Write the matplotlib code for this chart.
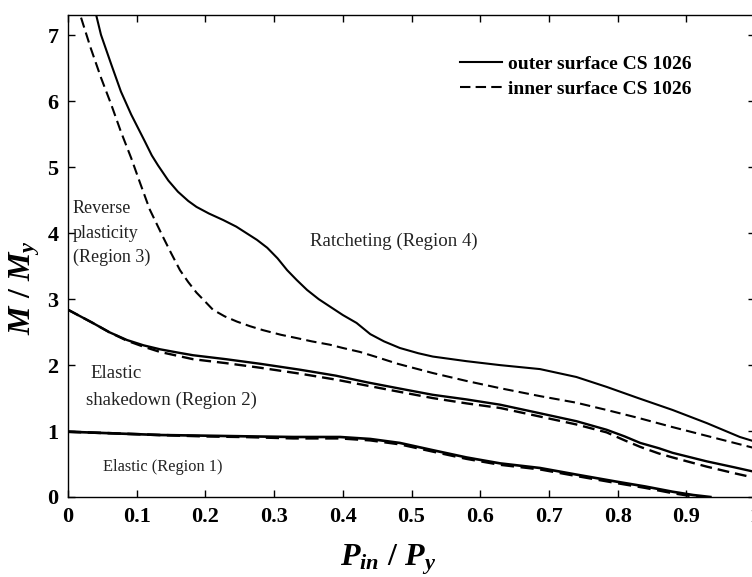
import matplotlib
matplotlib.use('Agg')
import matplotlib.pyplot as plt

# data
outer_top_x = [0.041, 0.048, 0.063, 0.077, 0.092, 0.112, 0.122, 0.131, 0.146, 0.16, 0.175, 0.187,
               0.205, 0.226, 0.245, 0.26, 0.275, 0.29, 0.305, 0.319, 0.333, 0.348, 0.365, 0.381,
               0.40, 0.42, 0.44, 0.46, 0.483, 0.51, 0.531, 0.58, 0.629, 0.687, 0.74, 0.784,
               0.83, 0.88, 0.93, 0.978, 1.0]
outer_top_y = [7.31, 7.01, 6.56, 6.15, 5.80, 5.39, 5.18, 5.03, 4.80, 4.63, 4.49, 4.40,
               4.30, 4.20, 4.10, 4.0, 3.9, 3.78, 3.62, 3.44, 3.29, 3.14, 3.0, 2.89,
               2.76, 2.64, 2.47, 2.36, 2.26, 2.18, 2.13, 2.06, 2.0, 1.94, 1.82, 1.67,
               1.5, 1.32, 1.12, 0.91, 0.84]

inner_top_x = [0.019, 0.033, 0.048, 0.063, 0.077, 0.092, 0.105, 0.119, 0.138, 0.15, 0.163,
               0.175, 0.187, 0.2, 0.211, 0.228, 0.246, 0.265, 0.284, 0.31, 0.333, 0.355,
               0.381, 0.40, 0.425, 0.45, 0.48, 0.531, 0.58, 0.629, 0.687, 0.74, 0.784, 0.83,
               0.88, 0.94, 1.0]
inner_top_y = [7.27, 6.81, 6.36, 5.95, 5.54, 5.14, 4.76, 4.36, 3.95, 3.7, 3.44,
               3.26, 3.10, 2.96, 2.84, 2.74, 2.66, 2.59, 2.53, 2.46, 2.41, 2.36,
               2.31, 2.26, 2.2, 2.12, 2.02, 1.88, 1.76, 1.65, 1.53, 1.43, 1.32, 1.2,
               1.06, 0.9, 0.74]

mid_x = [0, 0.036, 0.06, 0.086, 0.11, 0.134, 0.16, 0.182, 0.23, 0.28, 0.338, 0.39, 0.435,
         0.48, 0.531, 0.58, 0.629, 0.687, 0.74, 0.784, 0.81, 0.833, 0.86, 0.88, 0.93, 0.97, 1.0]
outer_mid_y = [2.84, 2.64, 2.5, 2.38, 2.3, 2.24, 2.19, 2.15, 2.09, 2.02, 1.93, 1.84, 1.74,
               1.65, 1.55, 1.48, 1.40, 1.27, 1.15, 1.02, 0.92, 0.82, 0.74, 0.67, 0.54, 0.45, 0.38]
inner_mid_y = [2.84, 2.64, 2.5, 2.37, 2.28, 2.2, 2.14, 2.09, 2.03, 1.96, 1.87, 1.78, 1.69,
               1.6, 1.5, 1.42, 1.35, 1.22, 1.1, 0.98, 0.86, 0.76, 0.66, 0.6, 0.46, 0.36, 0.29]

low_x = [0, 0.134, 0.2, 0.26, 0.328, 0.396, 0.44, 0.483, 0.531, 0.58, 0.629, 0.687, 0.74,
         0.80, 0.84, 0.88, 0.91, 0.935]
outer_low_y = [0.99, 0.94, 0.93, 0.92, 0.91, 0.91, 0.88, 0.82, 0.71, 0.6, 0.51, 0.44, 0.34,
               0.23, 0.16, 0.08, 0.03, 0.0]
inner_low_y = [0.99, 0.94, 0.92, 0.91, 0.89, 0.89, 0.86, 0.8, 0.69, 0.58, 0.49, 0.42, 0.32,
               0.21, 0.14, 0.06, 0.01, -0.02]

x_ticks = [0, 0.1, 0.2, 0.3, 0.4, 0.5, 0.6, 0.7, 0.8, 0.9, 1]
x_tick_labels = ['0', '0.1', '0.2', '0.3', '0.4', '0.5', '0.6', '0.7', '0.8', '0.9', '1']
y_ticks = [0, 1, 2, 3, 4, 5, 6, 7]

plt.rcParams['font.family'] = 'Liberation Serif'
plt.rcParams['mathtext.fontset'] = 'custom'
plt.rcParams['mathtext.it'] = 'Liberation Serif:italic:bold'
plt.rcParams['mathtext.rm'] = 'Liberation Serif:bold'
plt.rcParams['mathtext.bf'] = 'Liberation Serif:bold'

W, H = 752, 577
fig = plt.figure(figsize=(W / 100, H / 100), dpi=100)
ax = fig.add_axes([68 / W, 1 - 497 / H, 687 / W, 482 / H])

dash = (5, 2.5)
ax.plot(outer_top_x, outer_top_y, color='black', lw=1.5, label='outer surface CS 1026')
ax.plot(inner_top_x, inner_top_y, color='black', lw=1.5, dashes=dash, label='inner surface CS 1026')
ax.plot(mid_x, outer_mid_y, color='black', lw=1.7)
ax.plot(mid_x, inner_mid_y, color='black', lw=1.7, dashes=dash)
ax.plot(low_x, outer_low_y, color='black', lw=1.9)
ax.plot(low_x, inner_low_y, color='black', lw=1.9, dashes=dash)

ax.set_xlim(0, 1)
ax.set_ylim(0, 7.31)
ax.set_xticks(x_ticks)
ax.set_xticklabels(x_tick_labels)
ax.set_yticks(y_ticks)
ax.tick_params(direction='in', top=True, right=True, length=5, width=1,
               labelsize=16, pad=7)
for lab in ax.get_xticklabels() + ax.get_yticklabels():
    lab.set_fontweight('bold')
for s in ax.spines.values():
    s.set_linewidth(1)

# axis labels placed directly in figure pixels
fig.text(25 / W, 1 - 288 / H, r'$M\ /\ M_y$', fontsize=23, rotation=90,
         ha='center', va='center')
fig.text(388 / W, 1 - 560 / H, r'$P_{in}\ /\ P_y$', fontsize=23,
         ha='center', va='center')

ax.legend(loc='upper left', bbox_to_anchor=(0.571, 0.917), frameon=False,
          prop={'weight': 'bold', 'size': 14}, handlelength=2.15,
          handletextpad=0.3, labelspacing=0.4, borderaxespad=0, borderpad=0)

txt = dict(color='#222222')
ax.text(0.007, 4.0, 'Reverse\nplasticity\n(Region 3)', ha='left', va='center',
        linespacing=1.55, fontsize=13, **txt)
ax.text(0.352, 3.88, 'Ratcheting (Region 4)', ha='left', va='center', fontsize=13.6, **txt)
ax.text(0.032, 1.88, 'Elastic', ha='left', va='center', fontsize=13.6, **txt)
ax.text(0.026, 1.47, 'shakedown (Region 2)', ha='left', va='center', fontsize=13.6, **txt)
ax.text(0.051, 0.46, 'Elastic (Region 1)', ha='left', va='center', fontsize=11.8, **txt)

fig.savefig('out.png', dpi=100)
